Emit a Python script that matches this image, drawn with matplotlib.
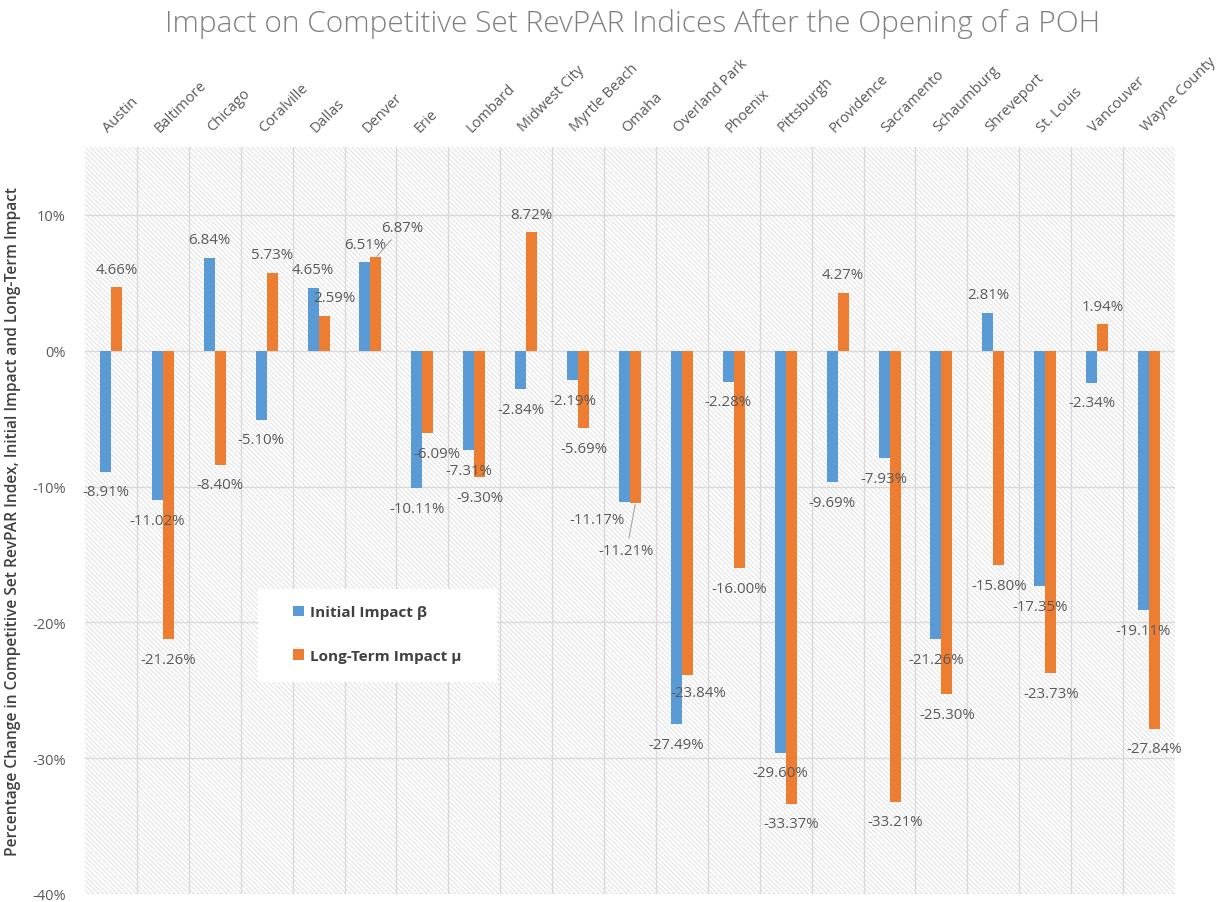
import matplotlib
matplotlib.use("Agg")
import matplotlib.pyplot as plt
from matplotlib.patches import Rectangle, Patch
import numpy as np

# Datos (en %)
cities = ["Austin", "Baltimore", "Chicago", "Coralville", "Dallas", "Denver", "Erie",
          "Lombard", "Midwest City", "Myrtle Beach", "Omaha", "Overland Park", "Phoenix",
          "Pittsburgh", "Providence", "Sacramento", "Schaumburg", "Shreveport", "St. Louis",
          "Vancouver", "Wayne County"]
initial_impact = [-8.91, -11.02, 6.84, -5.10, 4.65, 6.51, -10.11, -7.31, -2.84, -2.19,
                  -11.17, -27.49, -2.28, -29.60, -9.69, -7.93, -21.26, 2.81, -17.35,
                  -2.34, -19.11]
long_term_impact = [4.66, -21.26, -8.40, 5.73, 2.59, 6.87, -6.09, -9.30, 8.72, -5.69,
                    -11.21, -23.84, -16.00, -33.37, 4.27, -33.21, -25.30, -15.80, -23.73,
                    1.94, -27.84]
y_ticks = [-40, -30, -20, -10, 0, 10]

BLUE = "#5B9BD5"
ORANGE = "#ED7D31"
TXT = "#595959"
GRID = "#d9d9d9"

# etiquetas movidas a mano en el original: (ciudad, serie) -> (dx, dy, linea guia)
label_moves = {
    ("Dallas", 1): (10, None, False),
    ("Denver", 1): (26, 30, True),
    ("Erie", 1): (9, None, False),
    ("Omaha", 0): (-27, -17, False),
    ("Omaha", 1): (-9, -48, True),
    ("Overland Park", 1): (11, -18, False),
}

plt.rcParams["font.family"] = ["Open Sans", "DejaVu Sans"]
plt.rcParams["hatch.linewidth"] = 0.6

fig = plt.figure(figsize=(12.28, 9.03), dpi=100)
ax = fig.add_axes([85 / 1228, 8 / 903, 1090 / 1228, 747 / 903])

x = np.arange(len(cities))
w = 0.212
series = [initial_impact, long_term_impact]
colors = [BLUE, ORANGE]

# fondo rayado
ax.add_patch(Rectangle((0, 0), 1, 1, transform=ax.transAxes, fill=False,
                       hatch="\\" * 7, edgecolor="#dcdcdc", lw=0, zorder=0))
for yv in y_ticks:
    ax.axhline(yv, color=GRID, lw=1, zorder=1)
for b in np.arange(0.5, len(cities) - 1, 1.0):
    ax.axvline(b, color=GRID, lw=1, zorder=1)

for k, (vals, col) in enumerate(zip(series, colors)):
    xs = x + (k - 0.5) * w
    ax.bar(xs, vals, width=w, color=col, zorder=3)
    for i, v in enumerate(vals):
        dx, dy, leader = 0, (18 if v >= 0 else -20), False
        mv = label_moves.get((cities[i], k))
        if mv:
            dx = mv[0]
            if mv[1] is not None:
                dy = mv[1]
            leader = mv[2]
        ap = dict(arrowstyle="-", color="#a6a6a6", lw=0.8, shrinkA=2, shrinkB=1) if leader else None
        ax.annotate(f"{v:.2f}%", xy=(xs[i], v), xytext=(dx, dy), textcoords="offset pixels",
                    ha="center", va="center", fontsize=10.8, color=TXT, zorder=4,
                    arrowprops=ap)

ax.set_xlim(-0.5, len(cities) - 0.5)
ax.set_ylim(-40, 15)
ax.set_yticks(y_ticks)
ax.set_yticklabels([f"{t}%" for t in y_ticks], fontsize=10.5, color=TXT)
ax.tick_params(axis="y", length=0, pad=14)

ax.xaxis.tick_top()
ax.set_xticks(x)
ax.set_xticklabels(cities, rotation=45, ha="left", va="bottom", rotation_mode="anchor",
                   fontsize=10.5, color=TXT)
ax.tick_params(axis="x", length=0, pad=9)

for s in ax.spines.values():
    s.set_visible(False)
ax.set_facecolor("white")

ax.set_ylabel("Percentage Change in Competitive Set RevPAR Index, Initial Impact and Long-Term Impact",
              fontsize=11.2, color="#404040", fontweight="semibold")
ax.yaxis.set_label_coords(-64 / 1090, 0.5)

# leyenda dentro de un recuadro blanco
ax.add_patch(Rectangle((173 / 1090, 212 / 747), 239 / 1090, 93 / 747, transform=ax.transAxes,
                       facecolor="white", edgecolor="none", zorder=5))
handles = [Patch(facecolor=BLUE, label="Initial Impact β"),
           Patch(facecolor=ORANGE, label="Long-Term Impact μ")]
leg = ax.legend(handles=handles, loc="center left", bbox_to_anchor=(208 / 1090, 260 / 747),
                frameon=False, handlelength=0.7, handleheight=0.7, handletextpad=0.4,
                labelspacing=1.9, borderaxespad=0, borderpad=0,
                prop={"size": 11, "weight": "bold"})
leg.set_zorder(6)
for t in leg.get_texts():
    t.set_color("#404040")

fig.text(633 / 1228, 1 - 24 / 903, "Impact on Competitive Set RevPAR Indices After the Opening of a POH",
         ha="center", va="center", fontsize=21.5, color="#808080", fontweight="light")

fig.savefig("out.png", dpi=100)
